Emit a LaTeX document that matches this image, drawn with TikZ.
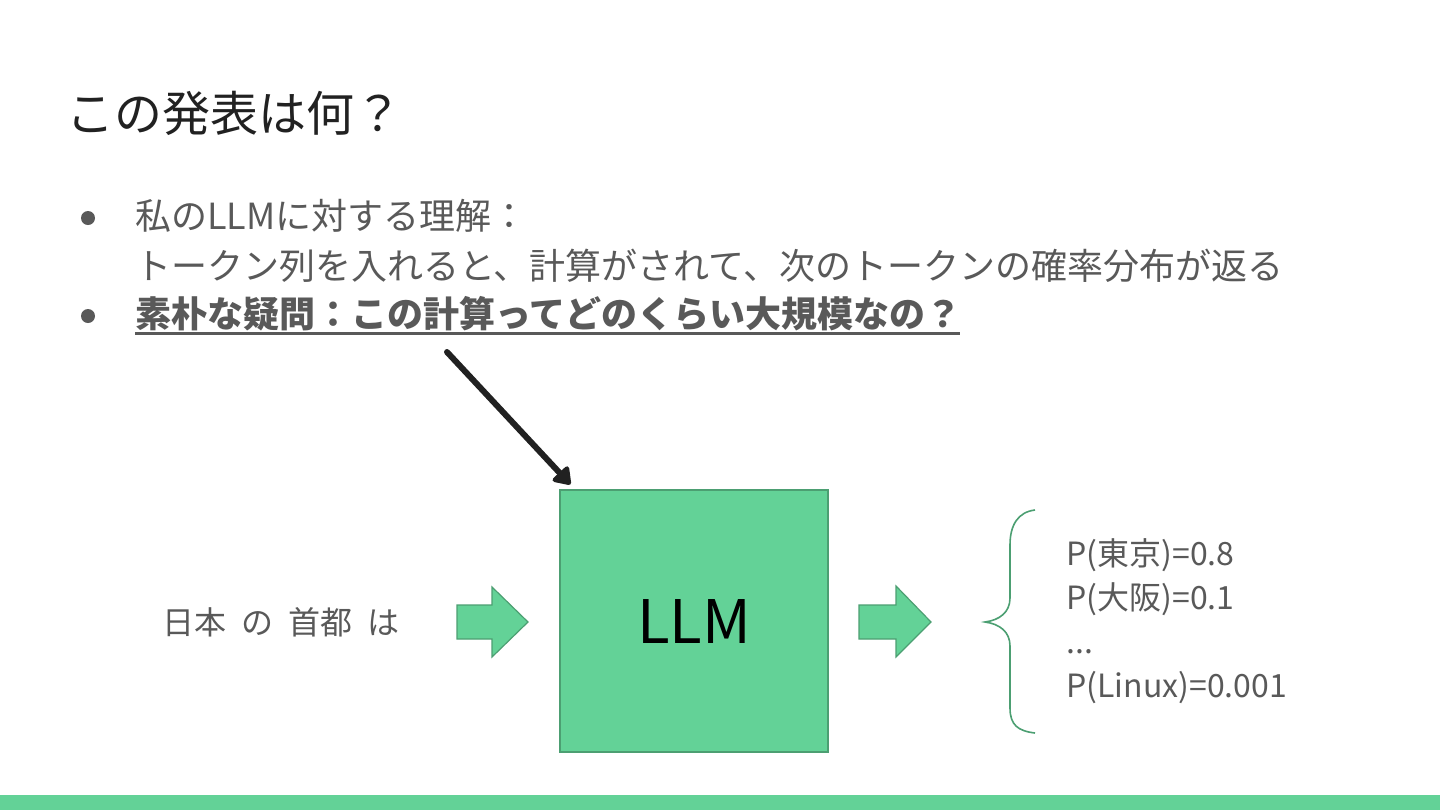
\documentclass[tikz,border=0pt]{standalone}
\usepackage{fontspec}
\setmainfont{Noto Sans CJK JP}
\usetikzlibrary{arrows.meta}
\definecolor{grn}{HTML}{63D297}
\definecolor{grnd}{HTML}{4C9F72}
\definecolor{txt}{HTML}{595959}
\definecolor{ttl}{HTML}{212121}
\tikzset{
  bodytext/.style={anchor=base west, inner sep=0pt, text=txt, font=\fontsize{18}{22}\selectfont},
  bulletdot/.style={circle, fill=txt, inner sep=0pt, minimum size=7pt},
  blockarrow/.style={fill=grn, draw=grnd, line width=0.6pt, line join=miter},
  probtext/.style={anchor=base west, inner sep=0pt, text=txt, font=\fontsize{16}{18}\selectfont},
}
\begin{document}
\begin{tikzpicture}[x=0.5pt,y=-0.5pt]
\useasboundingbox (0,0) rectangle (1440,810);
\fill[white] (0,0) rectangle (1440,810);
\fill[grn] (0,795) rectangle (1440,810);

% title
\node[anchor=base west, inner sep=0pt, text=ttl, font=\fontsize{24}{28}\selectfont] (title) at (66,131) {この発表は何？};

% bullets
\node[bulletdot] (b1) at (88,218) {};
\node[bulletdot] (b2) at (88,316) {};
\node[bodytext] (l1) at (135,229) {私のLLMに対する理解：};
\node[bodytext] (l2) at (135,279) {トークン列を入れると、計算がされて、次のトークンの確率分布が返る};
\node[bodytext, font=\fontsize{18}{22}\selectfont\bfseries] (l3) at (135,327) {素朴な疑問：この計算ってどのくらい大規模なの？};
\draw[txt, line width=1.5pt] (l3.base west) ++(0,6) coordinate (ul1) -- (960,333) coordinate (ul2);

% LLM box
\node[draw=grnd, fill=grn, line width=0.6pt, minimum width=134pt, minimum height=131pt, inner sep=0pt,
      font=\fontsize{30}{34}\selectfont, text=black] (llm) at (694,621) {LLM};

% pointer arrow
\coordinate (q) at (447,352);
\draw[ttl, line width=3pt, line cap=round, line join=round,
      -{Triangle[length=9pt,width=12pt,round]}] (q) -- ([shift={(11,-5)}]llm.north west);

% input text
\node[anchor=base west, inner sep=0pt, text=txt, font=\fontsize{16}{20}\selectfont] (inp) at (162,634)
  {日本\hspace{7.5pt}の\hspace{7.5pt}首都\hspace{7.5pt}は};

% block arrows
\draw[blockarrow] (457,605) -- (492,605) -- (492,587) -- (528,622) -- (492,657) -- (492,639) -- (457,639) -- cycle;
\draw[blockarrow] (859,605) -- (896,605) -- (896,586) -- (931,622) -- (896,657) -- (896,639) -- (859,639) -- cycle;

% brace
\draw[grnd, line width=0.8pt] (1035,510) .. controls (1018,512) and (1010,525) .. (1010,545) -- (1010,598)
  .. controls (1010,612) and (1000,620) .. (985,622)
  .. controls (1000,624) and (1010,632) .. (1010,646) -- (1010,708)
  .. controls (1010,725) and (1018,731) .. (1035,733);

% probabilities
\node[probtext] (p1) at (1066,565) {P(東京)=0.8};
\node[probtext] (p2) at (1066,609) {P(大阪)=0.1};
\node[probtext] (p3) at (1066,653) {...};
\node[probtext] (p4) at (1066,697) {P(Linux)=0.001};
\end{tikzpicture}
\end{document}
